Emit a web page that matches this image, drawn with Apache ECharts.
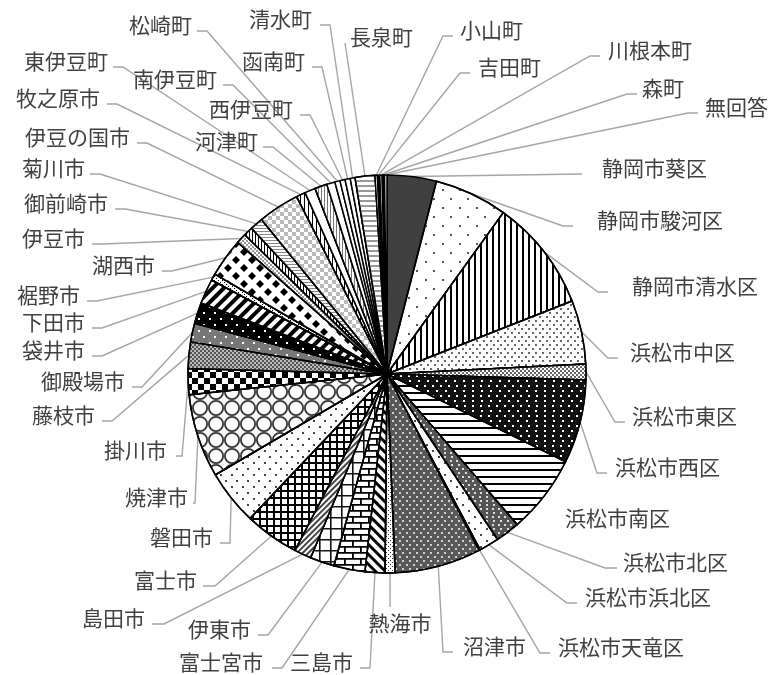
<!DOCTYPE html>
<html>
<head>
<meta charset="utf-8">
<script src="https://cdn.jsdelivr.net/npm/echarts@6/dist/echarts.min.js"></script>
<style>
  html, body { margin: 0; padding: 0; background: #ffffff; }
  #chart { width: 771px; height: 675px; }
</style>
</head>
<body>
<div id="chart"></div>
<script>
// Municipalities, in prefectural code order, clockwise from 12 o'clock
const municipalities = [
  '静岡市葵区', '静岡市駿河区', '静岡市清水区',
  '浜松市中区', '浜松市東区', '浜松市西区', '浜松市南区', '浜松市北区', '浜松市浜北区', '浜松市天竜区',
  '沼津市', '熱海市', '三島市', '富士宮市', '伊東市', '島田市', '富士市', '磐田市', '焼津市', '掛川市',
  '藤枝市', '御殿場市', '袋井市', '下田市', '裾野市', '湖西市', '伊豆市', '御前崎市', '菊川市', '伊豆の国市',
  '牧之原市', '東伊豆町', '河津町', '南伊豆町', '松崎町', '西伊豆町', '函南町', '清水町', '長泉町',
  '小山町', '吉田町', '川根本町', '森町', '無回答'
];

// Share of respondents (%)
const shares = [
  4.00, 5.94, 9.08,
  5.17, 1.28, 6.80, 6.39, 1.97, 1.61, 0.11,
  7.00, 0.81, 1.61, 2.53, 1.97, 1.39, 4.42, 4.47, 6.78, 2.11,
  2.14, 1.53, 1.69, 2.03, 0.53, 3.14, 0.83, 0.75, 1.06, 3.36,
  0.75, 0.86, 1.00, 0.67, 0.42, 0.42, 0.42, 0.39, 1.61,
  0.19, 0.19, 0.19, 0.19, 0.20
];

// Pie geometry
const CX = 387, CY = 374, R = 199;

// Leader-line end for each label: [x, y, side, stub length, gap to text]
// side: 'r' text to the right, 'l' text to the left, 'b' text below
const labelSpots = [
  [582, 174, 'r', 0, 20], [573, 226, 'r', 10, 24], [608, 292, 'r', 10, 24],
  [618, 358, 'r', 10, 12], [625, 422, 'r', 10, 7], [607, 473, 'r', 10, 8], [558, 524, 'r', -1, 7],
  [617, 568, 'r', 12, 6], [577, 603, 'r', 10, 8], [550, 653, 'r', 10, 8],
  [453, 652, 'r', 10, 10], [390, 607, 'b', 0, 5], [360, 668, 'l', 10, 7], [272, 668, 'l', 10, 9],
  [258, 635, 'l', 10, 7], [152, 624, 'l', 12, 7], [203, 586, 'l', 12, 6], [220, 543, 'l', 10, 7],
  [193, 503, 'l', 2, 5], [176, 456, 'l', 6, 9],
  [102, 421, 'l', 10, 7], [132, 387, 'l', 10, 7], [92, 356, 'l', 10, 7], [92, 328, 'l', 10, 7],
  [87, 301, 'l', 10, 7], [162, 271, 'l', 10, 7], [92, 244, 'l', 10, 7], [115, 209, 'l', 10, 7],
  [90, 174, 'l', 10, 5], [137, 143, 'l', 10, 7],
  [107, 104, 'l', 10, 7], [113, 67, 'l', 10, 5], [263, 147, 'l', 10, 5], [223, 85, 'l', 10, 6],
  [197, 31, 'l', 10, 5], [300, 115, 'l', 10, 7], [312, 67, 'l', 10, 7], [320, 25, 'l', 10, 8],
  [345, 43, 'r', 0, 5],
  [453, 36, 'r', 10, 7], [470, 73, 'r', 10, 8], [600, 56, 'r', 10, 8], [637, 94, 'r', 10, 5],
  [698, 113, 'r', 10, 7]
];

// Fill pattern builders
const fills = {
  solid: (c) => ({ color: c }),
  dots: (bg, fg, p, s) => ({
    color: bg,
    decal: { symbol: 'rect', symbolSize: 1, color: fg,
      dashArrayX: [[s, p - s], [0, p / 2, s, p / 2 - s]], dashArrayY: [s, p / 2 - s] }
  }),
  vlines: (bg, fg, w, g, rot) => ({
    color: bg,
    decal: { symbol: 'rect', symbolSize: 1, color: fg, dashArrayX: [w, g], dashArrayY: [4, 0], rotation: rot || 0 }
  }),
  hlines: (bg, fg, w, g, rot) => ({
    color: bg,
    decal: { symbol: 'rect', symbolSize: 1, color: fg, dashArrayX: [4, 0], dashArrayY: [w, g], rotation: rot || 0 }
  }),
  checker: (bg, fg, s, rot) => ({
    color: bg,
    decal: { symbol: 'rect', symbolSize: 1, color: fg,
      dashArrayX: [[s, s], [0, s, s, 0]], dashArrayY: [s, 0], rotation: rot || 0 }
  }),
  diamonds: (bg, fg, s) => ({
    color: bg,
    decal: { symbol: 'diamond', symbolSize: 1, color: fg,
      dashArrayX: [[s, s], [0, s, s, 0]], dashArrayY: [s, 0] }
  }),
  tile: (bg, fg, path, w, h, rot) => ({
    color: bg,
    decal: { symbol: path, symbolSize: 1, symbolKeepAspect: false, color: fg,
      dashArrayX: [w, 0], dashArrayY: [h, 0], rotation: rot || 0 }
  })
};

const GRID = 'path://M0 0H7V2H0Z M0 0H2V7H0Z';
const WIDE_GRID = 'path://M0 0H11V1.6H0Z M0 0H1.6V11H0Z';
const BRICK = 'path://M0 0H16V1.8H0Z M0 6H16V7.8H0Z M0 0H1.8V6H0Z M8 6H9.8V12H8Z';
const RING = 'path://M8 0A8 8 0 1 1 7.99 0Z M8 1.8A6.2 6.2 0 1 0 8.01 1.8Z';
const QUARTER = Math.PI / 4;

const sliceStyles = [
  fills.solid('#404040'),
  fills.dots('#ffffff', '#555555', 16, 1.6),
  fills.vlines('#ffffff', '#000000', 1.6, 3.4),
  fills.dots('#ffffff', '#666666', 6, 1.3),
  fills.checker('#ffffff', '#666666', 2),
  fills.dots('#111111', '#ffffff', 7, 1.4),
  fills.hlines('#ffffff', '#000000', 1.7, 4.3),
  fills.dots('#555555', '#dddddd', 5, 1.3),
  fills.dots('#ffffff', '#444444', 12, 2),
  fills.solid('#4c3a6e'),
  fills.dots('#595959', '#d0d0d0', 6, 1.5),
  fills.dots('#ffffff', '#333333', 4, 1),
  fills.vlines('#ffffff', '#000000', 3, 4, -QUARTER),
  fills.tile('#ffffff', '#000000', BRICK, 16, 12),
  fills.tile('#ffffff', '#111111', WIDE_GRID, 11, 11),
  fills.vlines('#ffffff', '#444444', 1.3, 2, QUARTER),
  fills.tile('#ffffff', '#000000', GRID, 7, 7),
  fills.dots('#ffffff', '#444444', 10, 1.6),
  fills.tile('#ffffff', '#333333', RING, 16, 16),
  fills.checker('#ffffff', '#000000', 6),
  fills.checker('#bbbbbb', '#555555', 2),
  fills.dots('#777777', '#ffffff', 10, 1.6),
  fills.dots('#000000', '#ffffff', 10, 1.6),
  fills.vlines('#ffffff', '#000000', 4, 4, QUARTER),
  fills.dots('#ffffff', '#000000', 4, 1),
  fills.diamonds('#ffffff', '#000000', 8),
  fills.checker('#ffffff', '#999999', 2),
  fills.vlines('#ffffff', '#000000', 1, 2),
  fills.hlines('#ffffff', '#888888', 1, 2),
  fills.checker('#ffffff', '#bbbbbb', 4),
  fills.vlines('#ffffff', '#000000', 1, 3),
  fills.solid('#ffffff'),
  fills.vlines('#ffffff', '#777777', 1, 2),
  fills.solid('#ffffff'),
  fills.solid('#ffffff'),
  fills.solid('#ffffff'),
  fills.solid('#ffffff'),
  fills.solid('#ffffff'),
  fills.hlines('#ffffff', '#999999', 2, 3),
  fills.solid('#ffffff'),
  fills.solid('#000000'),
  fills.solid('#ffffff'),
  fills.solid('#000000'),
  fills.solid('#ffffff')
];

// Point where a slice's leader line leaves the rim (mid-angle of the slice)
function rimPoint(i) {
  const total = shares.reduce((a, b) => a + b, 0);
  let acc = 0;
  for (let k = 0; k < i; k++) acc += shares[k];
  const mid = (acc + shares[i] / 2) / total * 2 * Math.PI;
  return [CX + R * Math.sin(mid), CY - R * Math.cos(mid)];
}

const seriesData = municipalities.map((name, i) => {
  const item = {
    name: name,
    value: shares[i],
    itemStyle: Object.assign({ borderColor: '#000000', borderWidth: 1.5 }, sliceStyles[i])
  };
  if (labelSpots[i][3] < 0) item.labelLine = { show: false };
  return item;
});

const chart = echarts.init(document.getElementById('chart'), null, { renderer: 'canvas' });
chart.setOption({
  backgroundColor: '#ffffff',
  animation: false,
  series: [{
    type: 'pie',
    center: [CX, CY],
    radius: R,
    startAngle: 90,
    clockwise: true,
    avoidLabelOverlap: false,
    minShowLabelAngle: 0,
    emphasis: { disabled: true },
    label: {
      show: true,
      position: 'outside',
      formatter: '{b}',
      fontSize: 21,
      color: '#404040',
      fontFamily: '"Noto Sans CJK JP", "Noto Sans", sans-serif'
    },
    labelLine: {
      show: true,
      length: 10,
      length2: 10,
      lineStyle: { color: '#a5a5a5', width: 1.4 }
    },
    labelLayout: function (p) {
      const i = p.dataIndex;
      const s = labelSpots[i];
      const start = (p.labelLinePoints && p.labelLinePoints[0]) || rimPoint(i);
      const end = [s[0], s[1]];
      const side = s[2], stub = Math.max(s[3], 0), gap = s[4];
      if (side === 'b') {
        return {
          x: s[0] + 10, y: s[1] + gap + 11, align: 'center', verticalAlign: 'middle',
          labelLinePoints: [start, end, end]
        };
      }
      const dir = side === 'r' ? -1 : 1;
      const elbow = [s[0] + dir * stub, s[1]];
      return {
        x: side === 'r' ? s[0] + gap : s[0] - gap,
        y: s[1] - 6,
        align: side === 'r' ? 'left' : 'right',
        verticalAlign: 'middle',
        labelLinePoints: [start, elbow, end]
      };
    },
    data: seriesData
  }]
});
</script>
</body>
</html>
